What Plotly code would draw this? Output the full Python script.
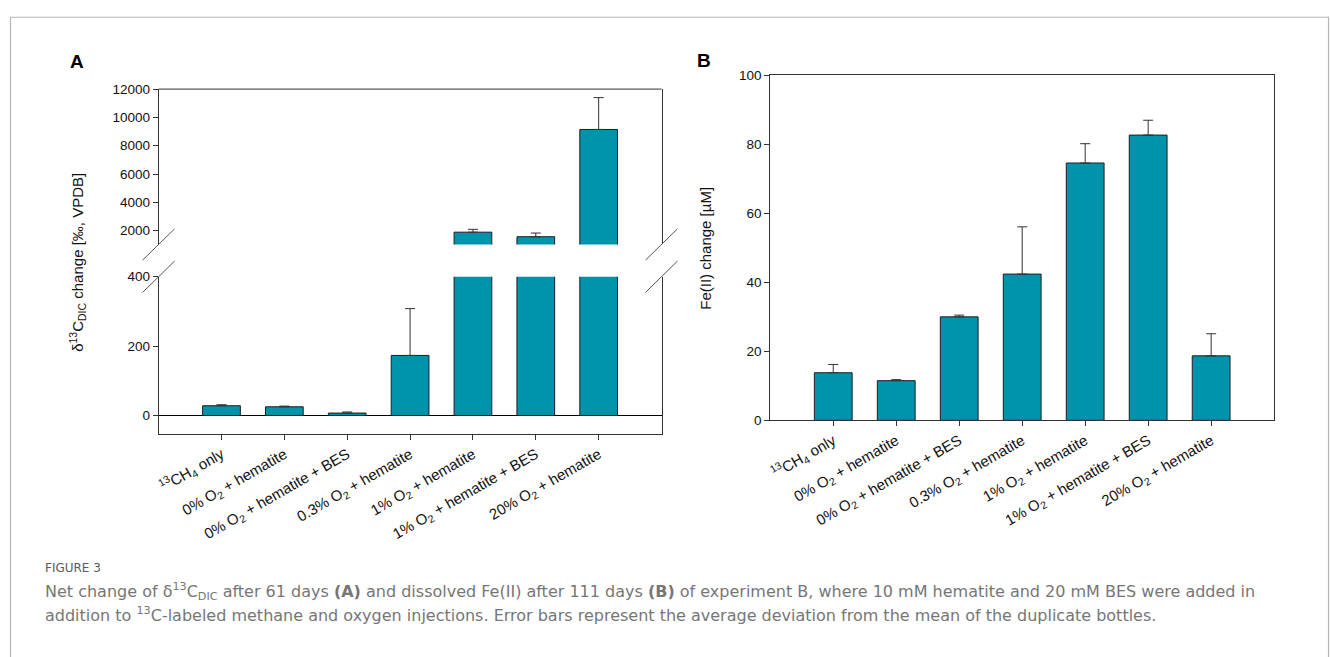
import plotly.graph_objects as go

# ---------------- data ----------------
categories = [
    "<sup>13</sup>CH<sub>4</sub> only",
    "0% O<sub>2</sub> + hematite",
    "0% O<sub>2</sub> + hematite + BES",
    "0.3% O<sub>2</sub> + hematite",
    "1% O<sub>2</sub> + hematite",
    "1% O<sub>2</sub> + hematite + BES",
    "20% O<sub>2</sub> + hematite",
]
d13c_change = [28, 25, 7, 173, 1900, 1580, 9150]
d13c_err = [3, 2, 3, 135, 200, 260, 2250]
fe_change = [13.8, 11.5, 30.0, 42.4, 74.6, 82.7, 18.7]
fe_err = [2.4, 0.3, 0.5, 13.7, 5.6, 4.3, 6.4]

lower_ticks = [0, 200, 400]
upper_ticks = [2000, 4000, 6000, 8000, 10000, 12000]
fe_ticks = [0, 20, 40, 60, 80, 100]

W, H = 1330, 657
def px(x):
    return x / W
def py(y):
    return 1 - y / H

BAR = "#0093AB"
EDGE = "#1e1e1e"
AX = "#333333"
FONT = "Liberation Sans, Arial, sans-serif"

def bar(x, y, err, xa, ya):
    return go.Bar(
        x=x, y=y, xaxis=xa, yaxis=ya,
        marker=dict(color=BAR, line=dict(color=EDGE, width=1)),
        error_y=dict(type="data", array=err, arrayminus=[0] * len(err),
                     symmetric=False, color=AX, thickness=1, width=5),
        showlegend=False, hoverinfo="x+y",
    )

fig = go.Figure()
fig.add_trace(bar(categories, d13c_change, d13c_err, "x", "y"))
fig.add_trace(bar(categories, d13c_change, d13c_err, "x", "y3"))
fig.add_trace(bar(categories, fe_change, fe_err, "x2", "y2"))

tickfont = dict(family=FONT, size=13.5, color="#111")
xtickfont = dict(family=FONT, size=15, color="#111")

common_x = dict(type="category", range=[-1, 7], ticks="outside", ticklen=5,
                tickcolor=AX, tickangle=-30, tickfont=xtickfont,
                showgrid=False, zeroline=False)

fig.update_layout(
    width=W, height=H,
    margin=dict(l=0, r=0, t=0, b=0),
    paper_bgcolor="white", plot_bgcolor="white",
    bargap=0.4,
    font=dict(family=FONT, color="#111"),
    xaxis=dict(domain=[px(156), px(660)], anchor="y", showline=True,
               linecolor=AX, linewidth=1, **common_x),
    yaxis=dict(domain=[py(437), py(276)], anchor="x", range=[-53.5, 400],
               tickvals=lower_ticks, ticktext=[str(v) for v in lower_ticks],
               ticks="outside", ticklen=5, tickcolor=AX,
               tickfont=tickfont, showgrid=False, zeroline=True,
               zerolinecolor="#000", zerolinewidth=1,
               showline=True, mirror=True, linecolor=AX, linewidth=1),
    yaxis3=dict(domain=[py(243), py(84)], anchor="x", range=[1034, 12000],
                tickvals=upper_ticks, ticktext=[str(v) for v in upper_ticks],
                ticks="outside", ticklen=5, tickcolor=AX,
                tickfont=tickfont, showgrid=False, zeroline=False,
                showline=True, mirror=True, linecolor=AX, linewidth=1),
    xaxis2=dict(domain=[px(769), px(1274)], anchor="y2", showline=True,
                mirror=True, linecolor=AX, linewidth=1, **common_x),
    yaxis2=dict(domain=[py(423), py(70)], anchor="x2", range=[0, 100],
                tickvals=fe_ticks, ticktext=[str(v) for v in fe_ticks],
                ticks="outside", ticklen=5, tickcolor=AX,
                tickfont=tickfont, showgrid=False, zeroline=False,
                showline=True, mirror=True, linecolor=AX, linewidth=1),
)

shapes = []
# top frame line of panel A
shapes.append(dict(type="line", xref="paper", yref="paper",
                   x0=px(156), x1=px(660), y0=py(84), y1=py(84),
                   line=dict(color=AX, width=1)))
# axis break marks
for xc in (156, 660):
    for yc in (243, 276):
        shapes.append(dict(type="line", xref="paper", yref="paper",
                           x0=px(xc - 16), y0=py(yc + 16),
                           x1=px(xc + 16), y1=py(yc - 16),
                           line=dict(color="#555", width=1)))
# outer figure border
shapes.append(dict(type="rect", xref="paper", yref="paper",
                   x0=px(7.5), x1=px(1328.5), y0=-0.1, y1=py(10.5),
                   line=dict(color="#b5b5b5", width=1.2), fillcolor="rgba(0,0,0,0)"))
fig.update_layout(shapes=shapes)

def note(text, x, y, size, color="#111", family=FONT, xanchor="center", angle=0):
    return dict(text=text, x=px(x), y=py(y), xref="paper", yref="paper",
                xanchor=xanchor, yanchor="middle", textangle=angle,
                showarrow=False, font=dict(family=family, size=size, color=color))

CAP = "DejaVu Sans, sans-serif"
ann = [
    note("<b>A</b>", 74, 56, 19, "#000"),
    note("<b>B</b>", 703, 55, 19, "#000"),
    note("δ<sup>13</sup>C<sub>DIC</sub> change [‰, VPDB]", 74, 261, 15, angle=-90),
    note("Fe(II) change [µM]", 704, 247, 15, angle=-90),
    note("FIGURE 3", 40, 574, 12, "#5a5a5a", CAP, "left"),
    note("Net change of δ<sup>13</sup>C<sub>DIC</sub> after 61 days <b>(A)</b> and dissolved Fe(II) after 111 days <b>(B)</b> of experiment B, where 10 mM hematite and 20 mM BES were added in",
         40, 598, 16, "#767676", CAP, "left"),
    note("addition to <sup>13</sup>C-labeled methane and oxygen injections. Error bars represent the average deviation from the mean of the duplicate bottles.",
         40, 622, 16, "#767676", CAP, "left"),
]
fig.update_layout(annotations=ann)

fig.write_html("out.html")
